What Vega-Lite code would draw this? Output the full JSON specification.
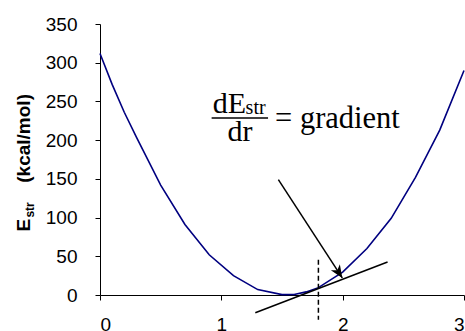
{
  "$schema": "https://vega.github.io/schema/vega-lite/v6.json",
  "width": 364,
  "height": 271,
  "autosize": "none",
  "padding": {"left": 100, "top": 24, "right": 1, "bottom": 36},
  "config": {
    "view": {"stroke": null},
    "axis": {
      "grid": false,
      "domainColor": "black",
      "domainWidth": 1,
      "tickColor": "black",
      "tickWidth": 1,
      "tickSize": 5,
      "labelColor": "black",
      "labelFont": "Liberation Sans",
      "labelFontSize": 19,
      "title": null
    }
  },
  "datasets": {
    "curve": [
      {"x": 0.0, "y": 312},
      {"x": 0.1, "y": 272},
      {"x": 0.2, "y": 236},
      {"x": 0.3, "y": 204},
      {"x": 0.5, "y": 142},
      {"x": 0.7, "y": 91},
      {"x": 0.9, "y": 52},
      {"x": 1.1, "y": 25},
      {"x": 1.3, "y": 7},
      {"x": 1.5, "y": 0.5},
      {"x": 1.6, "y": 0.7},
      {"x": 1.7, "y": 4},
      {"x": 1.8, "y": 9.5},
      {"x": 2.0, "y": 29.5},
      {"x": 2.2, "y": 60},
      {"x": 2.4, "y": 99},
      {"x": 2.6, "y": 152},
      {"x": 2.8, "y": 213},
      {"x": 3.0, "y": 290}
    ],
    "tangent": [
      {"x": 1.28, "y": -23},
      {"x": 2.37, "y": 42.6}
    ],
    "arrow": [
      {"x": 1.47, "y": 149},
      {"x": 1.997, "y": 22}
    ],
    "arrowTip": [
      {"x": 1.997, "y": 22}
    ],
    "marker": [
      {"x": 1.8, "y": 45.6, "y2": -32}
    ],
    "fractionBar": [
      {"x": 0.92, "x2": 1.385, "y": 228.6}
    ],
    "formulaLeft": [
      {"x": 0.93, "y": 235.0, "t": "dE", "size": 30},
      {"x": 1.2, "y": 233.5, "t": "str", "size": 20},
      {"x": 1.443, "y": 215.7, "t": "= gradient", "size": 30.5}
    ],
    "formulaCenter": [
      {"x": 1.154, "y": 198.4, "t": "dr", "size": 30}
    ],
    "ytitle": [
      {"x": -0.573, "y": 82, "t": "E", "size": 19},
      {"x": -0.54, "y": 100, "t": "str", "size": 12},
      {"x": -0.573, "y": 145, "t": "(kcal/mol)", "size": 19}
    ]
  },
  "encoding": {
    "x": {
      "field": "x",
      "type": "quantitative",
      "scale": {"domain": [0, 3], "nice": false, "zero": false},
      "axis": {"values": [0, 1, 2, 3], "labelPadding": 15, "format": "d"}
    },
    "y": {
      "field": "y",
      "type": "quantitative",
      "scale": {"domain": [0, 350], "nice": false},
      "axis": {"values": [0, 50, 100, 150, 200, 250, 300, 350], "labelPadding": 18, "format": "d"}
    }
  },
  "layer": [
    {
      "data": {"name": "curve"},
      "mark": {"type": "line", "color": "#000080", "strokeWidth": 1.6}
    },
    {
      "data": {"name": "tangent"},
      "mark": {"type": "line", "color": "black", "strokeWidth": 1.5}
    },
    {
      "data": {"name": "marker"},
      "mark": {"type": "rule", "color": "black", "strokeWidth": 1.5, "strokeDash": [5, 3]},
      "encoding": {"y2": {"field": "y2"}}
    },
    {
      "data": {"name": "arrow"},
      "mark": {"type": "line", "color": "black", "strokeWidth": 1.5}
    },
    {
      "data": {"name": "arrowTip"},
      "mark": {
        "type": "point",
        "shape": "M0,0 L-0.42,-1 L0,-0.72 L0.42,-1 Z",
        "filled": true,
        "color": "black",
        "opacity": 1,
        "size": 650,
        "angle": -33
      }
    },
    {
      "data": {"name": "fractionBar"},
      "mark": {"type": "rule", "color": "black", "strokeWidth": 1.3},
      "encoding": {"x2": {"field": "x2"}}
    },
    {
      "data": {"name": "formulaLeft"},
      "mark": {"type": "text", "font": "Liberation Serif", "color": "black", "baseline": "alphabetic", "align": "left"},
      "encoding": {
        "text": {"field": "t"},
        "size": {"field": "size", "type": "quantitative", "scale": null}
      }
    },
    {
      "data": {"name": "formulaCenter"},
      "mark": {"type": "text", "font": "Liberation Serif", "color": "black", "baseline": "alphabetic", "align": "center"},
      "encoding": {
        "text": {"field": "t"},
        "size": {"field": "size", "type": "quantitative", "scale": null}
      }
    },
    {
      "data": {"name": "ytitle"},
      "mark": {"type": "text", "font": "Liberation Sans", "fontWeight": "bold", "color": "black", "baseline": "alphabetic", "align": "left", "angle": 270},
      "encoding": {
        "text": {"field": "t"},
        "size": {"field": "size", "type": "quantitative", "scale": null}
      }
    }
  ]
}
